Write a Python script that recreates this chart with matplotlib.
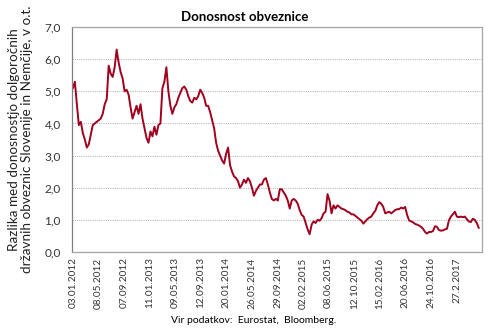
import numpy as np
import matplotlib
matplotlib.use("Agg")
from matplotlib import pyplot as plt

# spread values, one sample every 7 business days
spread = [
    5.1, 5.3, 4.6, 3.95, 4.05, 3.7, 3.5, 3.25, 3.35, 3.65,
    3.95, 4.0, 4.05, 4.1, 4.15, 4.3, 4.6, 4.75, 5.8, 5.55,
    5.45, 5.75, 6.3, 5.9, 5.6, 5.4, 5.0, 5.05, 4.9, 4.5,
    4.15, 4.35, 4.55, 4.3, 4.6, 4.15, 3.85, 3.55, 3.4, 3.75,
    3.6, 3.9, 3.65, 3.95, 4.0, 5.1, 5.3, 5.75, 5.0, 4.55,
    4.3, 4.5, 4.6, 4.8, 4.95, 5.1, 5.15, 5.05, 4.85, 4.7,
    4.65, 4.8, 4.75, 4.85, 5.05, 4.95, 4.8, 4.55, 4.55, 4.35,
    4.1, 3.85, 3.4, 3.15, 3.0, 2.85, 2.75, 3.05, 3.25, 2.7,
    2.5, 2.35, 2.3, 2.2, 2.0, 2.1, 2.25, 2.15, 2.3, 2.2,
    2.0, 1.75, 1.9, 2.0, 2.1, 2.1, 2.25, 2.3, 2.1, 1.85,
    1.65, 1.6, 1.65, 1.6, 1.95, 1.95, 1.85, 1.75, 1.6, 1.35,
    1.6, 1.65, 1.6, 1.5, 1.3, 1.15, 1.1, 0.9, 0.7, 0.55,
    0.85, 0.95, 0.9, 1.0, 0.97, 1.05, 1.2, 1.25, 1.8, 1.6,
    1.2, 1.45, 1.35, 1.45, 1.4, 1.35, 1.33, 1.3, 1.25, 1.23,
    1.17, 1.17, 1.12, 1.07, 1.02, 0.97, 0.88, 0.95, 1.02, 1.07,
    1.1, 1.2, 1.28, 1.45, 1.55, 1.5, 1.4, 1.2, 1.23, 1.25,
    1.2, 1.25, 1.3, 1.33, 1.33, 1.38, 1.35, 1.4, 1.15, 0.98,
    0.95, 0.92, 0.87, 0.85, 0.82, 0.78, 0.72, 0.62, 0.57, 0.62,
    0.62, 0.65, 0.8, 0.78, 0.68, 0.66, 0.67, 0.7, 0.72, 0.98,
    1.1, 1.17, 1.25, 1.1, 1.08, 1.1, 1.08, 1.1, 1.02, 0.95,
    0.93, 1.03, 1.0, 0.9, 0.75,
]
sample_step = 7  # business days between samples

tick_labels = [
    "03.01.2012", "08.05.2012", "07.09.2012", "11.01.2013", "09.05.2013",
    "12.09.2013", "20.01.2014", "26.05.2014", "29.09.2014", "02.02.2015",
    "08.06.2015", "12.10.2015", "15.02.2016", "20.06.2016", "24.10.2016",
    "27.2.2017",
]
tick_step = 90  # business days between labels

plt.rcParams["font.family"] = ["Lato", "DejaVu Sans"]

fig = plt.figure(figsize=(4.9, 3.31), dpi=100)
ax = fig.add_axes([0.147, 0.239, 0.837, 0.679])

x = np.arange(len(spread)) * sample_step
ax.plot(x, spread, color="#A0001E", lw=1.4, solid_joinstyle="round")

ax.set_ylim(0, 7)
ax.set_xlim(-3, 1440)
ax.set_yticks(np.arange(0, 8, 1))
ax.set_yticklabels([f"{v:.1f}".replace(".", ",") for v in range(8)], fontsize=8.5,
                   color="#333333")
ax.set_xticks(np.arange(len(tick_labels)) * tick_step)
ax.set_xticklabels(tick_labels, rotation=90, fontsize=7.2, color="#333333")
ax.tick_params(length=0, pad=8)
ax.tick_params(axis="x", pad=4)

ax.grid(axis="y", color="#BBBBBB", linestyle=(0, (1, 1)), linewidth=0.8)
ax.set_axisbelow(True)
for side in ["top", "right", "bottom", "left"]:
    ax.spines[side].set_color("#A6A6A6")
    ax.spines[side].set_linewidth(0.9)
ax.spines["left"].set_color("#808080")

ax.set_ylabel("Razlika med donosnostjo dolgoročnih\ndržavnih obveznic Slovenije in Nemčije, v o.t.",
              fontsize=9.7, linespacing=1.1, labelpad=8, color="#222222")

fig.text(0.5, 0.948, "Donosnost obveznice", ha="center", va="center",
         fontsize=9.5, fontweight="bold")
fig.text(0.517, 0.033, "Vir podatkov:  Eurostat,  Bloomberg.", ha="center",
         va="center", fontsize=7.5)

fig.savefig("out.png", dpi=100)
